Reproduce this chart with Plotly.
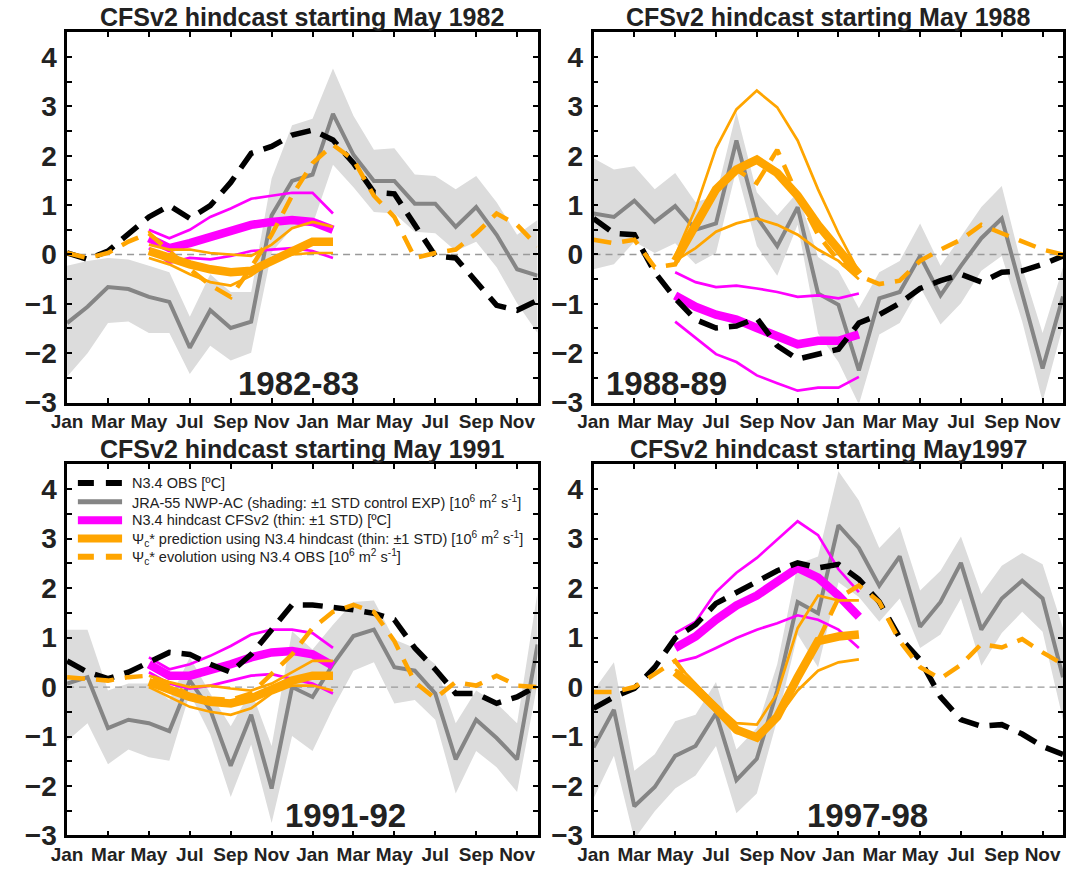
import plotly.graph_objects as go

# ---------------------------------------------------------------- data
MONTH_IDX = list(range(24))                     # Jan (year 1) .. Dec (year 2)
HC_IDX = list(range(4, 14))                     # May (year 1) .. Feb (year 2)
TICK_POS = list(range(0, 24, 2))
TICK_TEXT = ["Jan", "Mar", "May", "Jul", "Sep", "Nov"] * 2
Y_MAJOR = [-3, -2, -1, 0, 1, 2, 3, 4]
Y_MAJOR_TEXT = ["\u22123", "\u22122", "\u22121", "0", "1", "2", "3", "4"]
Y_MINOR = [-2.5, -1.5, -0.5, 0.5, 1.5, 2.5, 3.5]

TITLES = ["CFSv2 hindcast starting May 1982", "CFSv2 hindcast starting May 1988",
          "CFSv2 hindcast starting May 1991", "CFSv2 hindcast starting May1997"]
EVENTS = ["1982-83", "1988-89", "1991-92", "1997-98"]
EVENT_POS = [(11.3, -2.62), (3.6, -2.62), (13.6, -2.6), (13.4, -2.6)]

# 1982-83
jra_82 = [-1.39, -1.06, -0.66, -0.70, -0.86, -0.96, -1.89, -1.13, -1.49, -1.36, 0.79, 1.49,
          1.62, 2.85, 2.02, 1.49, 1.49, 1.03, 1.03, 0.56, 0.96, 0.40, -0.30, -0.43]
jra_hi_82 = [-0.23, -0.13, -0.07, -0.10, -0.23, -0.36, -1.26, -0.40, -0.76, -0.76, 1.54, 2.62,
             2.75, 3.77, 2.81, 2.12, 2.15, 1.62, 1.59, 1.32, 1.59, 1.06, 0.40, 0.70]
jra_lo_82 = [-2.48, -2.00, -1.39, -1.36, -1.59, -1.59, -2.42, -1.85, -2.15, -1.99, 0.04, 0.53,
             0.60, 1.82, 1.36, 0.86, 0.83, 0.46, 0.43, 0.07, 0.26, -0.26, -0.99, -1.59]
obs_82 = [0.03, -0.10, 0.07, 0.40, 0.76, 0.99, 0.73, 0.99, 1.46, 2.05, 2.19, 2.42,
          2.52, 2.32, 1.85, 1.26, 1.23, 0.60, -0.03, -0.07, -0.53, -1.03, -1.13, -0.93]
psi_obs_82 = [0.03, -0.07, 0.03, 0.26, 0.43, 0.05, -0.30, -0.62, -0.86, -0.26, 0.40, 1.19,
              1.85, 2.22, 1.92, 1.19, 0.76, -0.07, 0.03, 0.10, 0.43, 0.83, 0.60, 0.17]
hc_82 = [0.33, 0.13, 0.23, 0.36, 0.50, 0.60, 0.66, 0.70, 0.66, 0.50]
hc_hi_82 = [0.50, 0.33, 0.50, 0.76, 0.93, 1.13, 1.19, 1.25, 1.25, 0.83]
hc_lo_82 = [0.13, -0.17, -0.07, -0.10, -0.03, 0.07, 0.10, 0.13, 0.07, -0.07]
psi_82 = [0.07, -0.07, -0.20, -0.30, -0.36, -0.33, -0.13, 0.07, 0.26, 0.26]
psi_hi_82 = [0.20, 0.10, 0.10, 0.03, 0.00, -0.03, 0.20, 0.53, 0.66, 0.56]
psi_lo_82 = [-0.07, -0.20, -0.40, -0.56, -0.63, -0.43, -0.13, 0.00, 0.03, 0.03]

# 1988-89
jra_88 = [0.83, 0.76, 1.09, 0.66, 0.98, 0.50, 0.63, 2.31, 0.76, 0.17, 0.96, -0.79,
          -1.02, -2.35, -0.89, -0.76, -0.03, -0.83, -0.23, 0.33, 0.73, -0.79, -2.31, -0.85]
jra_hi_88 = [1.95, 1.72, 1.79, 1.32, 1.65, 1.06, 1.19, 2.88, 1.26, 0.79, 1.26, -0.05,
             -0.33, -1.09, -0.36, -0.13, 0.63, -0.23, 0.36, 0.96, 1.39, -0.26, -1.59, -0.26]
jra_lo_88 = [-0.30, -0.20, 0.26, 0.03, 0.23, -0.20, 0.03, 1.72, 0.17, -0.43, 0.60, -1.60,
             -2.18, -3.04, -1.62, -1.39, -0.66, -1.42, -0.99, -0.33, -0.03, -1.36, -2.98, -1.45]
obs_88 = [0.73, 0.43, 0.40, -0.36, -0.89, -1.32, -1.49, -1.45, -1.29, -1.85, -2.12, -2.02,
          -1.92, -1.39, -1.22, -0.99, -0.69, -0.53, -0.40, -0.56, -0.36, -0.33, -0.20, -0.03]
psi_obs_88 = [0.30, 0.23, 0.30, -0.26, -0.20, 0.60, 1.32, 1.72, 1.45, 2.12, 1.19, 0.40,
              -0.13, -0.43, -0.60, -0.53, -0.13, 0.10, 0.30, 0.60, 0.43, 0.26, 0.10, 0.00]
hc_88 = [-0.83, -1.06, -1.22, -1.32, -1.49, -1.65, -1.82, -1.75, -1.75, -1.62]
hc_hi_88 = [-0.36, -0.56, -0.66, -0.63, -0.69, -0.76, -0.86, -0.83, -0.89, -0.79]
hc_lo_88 = [-1.36, -1.69, -2.02, -2.18, -2.45, -2.61, -2.76, -2.70, -2.70, -2.48]
psi_88 = [-0.13, 0.60, 1.32, 1.72, 1.92, 1.65, 1.19, 0.60, 0.13, -0.40]
psi_hi_88 = [-0.03, 0.93, 2.15, 2.94, 3.32, 2.98, 2.31, 1.32, 0.43, -0.36]
psi_lo_88 = [-0.13, 0.13, 0.46, 0.63, 0.73, 0.60, 0.40, 0.10, -0.13, -0.50]

# 1991-92
jra_91 = [0.07, 0.20, -0.83, -0.66, -0.73, -0.89, 0.13, -0.46, -1.59, -0.56, -2.05, 0.00,
          -0.20, 0.46, 1.03, 1.16, 0.40, 0.33, -0.13, -1.46, -0.66, -1.03, -1.46, 0.86]
jra_hi_91 = [1.16, 1.16, -0.07, 0.07, 0.07, -0.26, 0.60, -0.13, -0.79, -0.07, -1.19, 1.13,
             0.76, 1.26, 1.72, 1.75, 0.96, 0.79, 0.46, -0.73, -0.07, -0.33, -0.73, 1.92]
jra_lo_91 = [-1.09, -0.73, -1.56, -1.26, -1.42, -1.49, -0.13, -0.96, -2.22, -1.16, -2.75, -0.99,
             -1.29, -0.43, 0.33, 0.50, -0.33, -0.26, -0.66, -2.15, -1.29, -1.62, -2.12, 0.07]
obs_91 = [0.53, 0.30, 0.17, 0.30, 0.50, 0.70, 0.66, 0.46, 0.30, 0.66, 1.16, 1.66,
          1.66, 1.62, 1.56, 1.49, 1.36, 0.79, 0.36, -0.13, -0.13, -0.33, -0.20, 0.03]
psi_obs_91 = [0.20, 0.17, 0.13, 0.20, 0.23, 0.07, -0.17, -0.23, -0.26, -0.13, 0.26, 0.66,
              1.19, 1.52, 1.66, 1.52, 0.93, 0.10, -0.23, 0.10, 0.03, 0.23, 0.03, 0.00]
hc_91 = [0.46, 0.23, 0.23, 0.33, 0.46, 0.60, 0.70, 0.73, 0.66, 0.43]
hc_hi_91 = [0.60, 0.36, 0.46, 0.63, 0.83, 1.06, 1.16, 1.16, 1.09, 0.79]
hc_lo_91 = [0.30, 0.07, -0.03, 0.03, 0.13, 0.23, 0.26, 0.17, 0.07, -0.13]
psi_91 = [0.10, -0.07, -0.20, -0.30, -0.33, -0.23, -0.03, 0.13, 0.23, 0.23]
psi_hi_91 = [0.23, 0.10, 0.00, 0.03, -0.03, -0.07, 0.07, 0.30, 0.53, 0.53]
psi_lo_91 = [0.00, -0.20, -0.40, -0.50, -0.56, -0.43, -0.13, 0.03, 0.03, -0.07]

# 1997-98
jra_97 = [-1.22, -0.46, -2.41, -2.02, -1.39, -1.19, -0.53, -1.88, -1.45, -0.07, 1.72, 1.49,
          3.27, 2.81, 2.05, 2.64, 1.22, 1.72, 2.51, 1.16, 1.79, 2.15, 1.79, 0.20]
jra_hi_97 = [-0.07, 0.50, -1.69, -1.36, -0.69, -0.56, 0.10, -1.26, -0.83, 0.46, 2.48, 2.64,
             4.36, 3.77, 2.81, 3.24, 1.95, 2.35, 3.04, 1.88, 2.45, 2.71, 2.48, 1.19]
jra_lo_97 = [-2.25, -1.39, -3.07, -2.51, -2.05, -1.79, -1.19, -2.55, -2.15, -0.66, 1.06, 0.40,
             2.12, 1.82, 1.32, 1.79, 0.79, 1.06, 1.79, 0.43, 1.09, 1.52, 1.12, -0.66]
obs_97 = [-0.43, -0.20, -0.03, 0.40, 0.99, 1.26, 1.69, 1.92, 2.12, 2.35, 2.51, 2.41,
          2.48, 2.18, 1.72, 1.00, 0.55, -0.20, -0.66, -0.79, -0.76, -0.95, -1.20, -1.36]
psi_obs_97 = [-0.10, -0.10, 0.00, 0.26, 0.53, -0.03, -0.43, -0.86, -1.02, -0.60, 0.20, 0.93,
              1.80, 2.05, 1.72, 0.93, 0.40, 0.17, 0.45, 0.87, 0.80, 0.97, 0.70, 0.46]
hc_97 = [0.79, 1.02, 1.36, 1.65, 1.85, 2.15, 2.41, 2.21, 1.85, 1.42]
hc_hi_97 = [1.09, 1.32, 1.92, 2.31, 2.61, 2.98, 3.35, 3.07, 2.38, 1.92]
hc_lo_97 = [0.50, 0.60, 0.79, 0.99, 1.16, 1.29, 1.45, 1.36, 1.16, 0.79]
psi_97 = [0.30, -0.03, -0.43, -0.86, -1.02, -0.60, 0.20, 0.93, 1.02, 1.06]
psi_hi_97 = [0.50, 0.07, -0.36, -0.73, -0.76, -0.13, 1.19, 1.85, 1.75, 1.75]
psi_lo_97 = [0.36, -0.07, -0.50, -0.93, -0.96, -0.63, -0.07, 0.33, 0.50, 0.56]

PANELS = [
    (jra_82, jra_hi_82, jra_lo_82, obs_82, psi_obs_82, hc_82, hc_hi_82, hc_lo_82, psi_82, psi_hi_82, psi_lo_82),
    (jra_88, jra_hi_88, jra_lo_88, obs_88, psi_obs_88, hc_88, hc_hi_88, hc_lo_88, psi_88, psi_hi_88, psi_lo_88),
    (jra_91, jra_hi_91, jra_lo_91, obs_91, psi_obs_91, hc_91, hc_hi_91, hc_lo_91, psi_91, psi_hi_91, psi_lo_91),
    (jra_97, jra_hi_97, jra_lo_97, obs_97, psi_obs_97, hc_97, hc_hi_97, hc_lo_97, psi_97, psi_hi_97, psi_lo_97),
]

LEGEND_NAMES = [
    "N3.4 OBS [\u00baC]",
    "JRA-55 NWP-AC (shading: \u00b11 STD control EXP) [10<sup>6</sup> m<sup>2</sup> s<sup>-1</sup>]",
    "N3.4 hindcast CFSv2 (thin: \u00b11 STD) [\u00baC]",
    "\u03a8<sub>c</sub>* prediction using N3.4 hindcast (thin: \u00b11 STD) [10<sup>6</sup> m<sup>2</sup> s<sup>-1</sup>]",
    "\u03a8<sub>c</sub>* evolution using N3.4 OBS [10<sup>6</sup> m<sup>2</sup> s<sup>-1</sup>]",
]

# ---------------------------------------------------------------- style
W, H = 1066, 878
FONT = "Liberation Sans, Arial, Helvetica, sans-serif"
TEXT = "#222222"
ORANGE = "#FFA500"
MAGENTA = "#FF00FF"
GRAY = "#858585"
SHADE = "#DCDCDC"

# panel boxes in pixels: (left, right, top, bottom)
BOXES = [(52, 531, 33, 410), (588, 1066, 33, 410),
         (52, 531, 473, 851), (588, 1066, 473, 851)]
TITLE_Y = [17, 17, 457, 457]

# key drawn inside the lower-left panel (pixel positions)
KEY_ROWS = [492, 511, 530, 548.5, 567]
KEY_X = (63, 108, 116)
KEY_STYLE = [dict(color="black", width=6, dash="16px,12px"),
             dict(color=GRAY, width=5),
             dict(color=MAGENTA, width=8),
             dict(color=ORANGE, width=8),
             dict(color=ORANGE, width=6, dash="16px,12px")]

fig = go.Figure()
layout = dict(
    width=W, height=H,
    margin=dict(l=0, r=0, t=0, b=0),
    paper_bgcolor="white", plot_bgcolor="white",
    font=dict(family=FONT, color=TEXT),
    showlegend=False,
)
annotations = []
shapes = []

for i, data in enumerate(PANELS):
    (jra, jra_hi, jra_lo, obs, psi_obs, hc, hc_hi, hc_lo, psi, psi_hi, psi_lo) = data
    sfx = "" if i == 0 else str(i + 1)
    xa, ya = "x" + sfx, "y" + sfx

    # JRA-55 spread shading
    fig.add_trace(go.Scatter(x=MONTH_IDX + MONTH_IDX[::-1], y=jra_hi + jra_lo[::-1],
                             fill="toself", fillcolor=SHADE, line=dict(width=0),
                             mode="lines", hoverinfo="skip", xaxis=xa, yaxis=ya))
    # zero reference
    fig.add_trace(go.Scatter(x=[MONTH_IDX[0], MONTH_IDX[-1]], y=[0, 0], mode="lines",
                             line=dict(color="#999999", width=1.3, dash="7px,5px"),
                             hoverinfo="skip", xaxis=xa, yaxis=ya))
    # JRA-55 NWP-AC
    fig.add_trace(go.Scatter(x=MONTH_IDX, y=jra, mode="lines", name="JRA-55 NWP-AC",
                             line=dict(color=GRAY, width=4), xaxis=xa, yaxis=ya))
    # hindcast N3.4 spread and mean
    for yy in (hc_hi, hc_lo):
        fig.add_trace(go.Scatter(x=HC_IDX, y=yy, mode="lines",
                                 line=dict(color=MAGENTA, width=2.7), xaxis=xa, yaxis=ya))
    fig.add_trace(go.Scatter(x=HC_IDX, y=hc, mode="lines", name="N3.4 hindcast",
                             line=dict(color=MAGENTA, width=8.5), xaxis=xa, yaxis=ya))
    # predicted Psi_c* spread and mean
    for yy in (psi_hi, psi_lo):
        fig.add_trace(go.Scatter(x=HC_IDX, y=yy, mode="lines",
                                 line=dict(color=ORANGE, width=2.7), xaxis=xa, yaxis=ya))
    fig.add_trace(go.Scatter(x=HC_IDX, y=psi, mode="lines", name="Psi_c* prediction",
                             line=dict(color=ORANGE, width=8.5), xaxis=xa, yaxis=ya))
    # observed N3.4
    fig.add_trace(go.Scatter(x=MONTH_IDX, y=obs, mode="lines", name="N3.4 OBS",
                             line=dict(color="black", width=5.5, dash="20px,11px"),
                             xaxis=xa, yaxis=ya))
    # Psi_c* from observed N3.4
    fig.add_trace(go.Scatter(x=MONTH_IDX, y=psi_obs, mode="lines", name="Psi_c* evolution",
                             line=dict(color=ORANGE, width=4.5, dash="18px,11px"),
                             xaxis=xa, yaxis=ya))

    l, r, t, b = BOXES[i]
    axis_common = dict(showline=True, linecolor="black", linewidth=2.5, mirror="allticks",
                       ticks="inside", ticklen=5, tickwidth=1.5, tickcolor="black",
                       showgrid=False, zeroline=False, fixedrange=True)
    layout["xaxis" + sfx] = dict(axis_common, domain=[l / W, r / W], range=[0, 23],
                                 anchor=ya, tickvals=TICK_POS, ticktext=TICK_TEXT,
                                 tickfont=dict(size=19, family=FONT, color=TEXT,
                                               weight="bold"))
    layout["yaxis" + sfx] = dict(axis_common, domain=[1 - b / H, 1 - t / H], range=[-3, 4.5],
                                 anchor=xa, tickvals=Y_MAJOR, ticktext=Y_MAJOR_TEXT,
                                 minor=dict(tickvals=Y_MINOR, ticks="inside", ticklen=5,
                                            tickwidth=1.5, tickcolor="black"),
                                 tickfont=dict(size=28, family=FONT, color=TEXT,
                                               weight="bold"),
                                 ticklabelstandoff=2)
    annotations.append(dict(text="<b>%s</b>" % TITLES[i], xref="paper", yref="paper",
                            x=(l + r) / 2 / W, y=1 - TITLE_Y[i] / H,
                            xanchor="center", yanchor="middle", showarrow=False,
                            font=dict(size=25, family=FONT, color=TEXT)))
    ex, ey = EVENT_POS[i]
    annotations.append(dict(text="<b>%s</b>" % EVENTS[i], xref=xa, yref=ya, x=ex, y=ey,
                            xanchor="center", yanchor="middle", showarrow=False,
                            font=dict(size=33, family=FONT, color=TEXT)))

# key (line samples + labels)
for row_y, style, label in zip(KEY_ROWS, KEY_STYLE, LEGEND_NAMES):
    yy = 1 - row_y / H
    shapes.append(dict(type="line", xref="paper", yref="paper",
                       x0=KEY_X[0] / W, x1=KEY_X[1] / W, y0=yy, y1=yy, line=style))
    annotations.append(dict(text=label, xref="paper", yref="paper",
                            x=KEY_X[2] / W, y=yy, xanchor="left", yanchor="middle",
                            showarrow=False, font=dict(size=14.5, family=FONT, color=TEXT)))

layout["annotations"] = annotations
layout["shapes"] = shapes
fig.update_layout(**layout)
fig.write_html("out.html")
